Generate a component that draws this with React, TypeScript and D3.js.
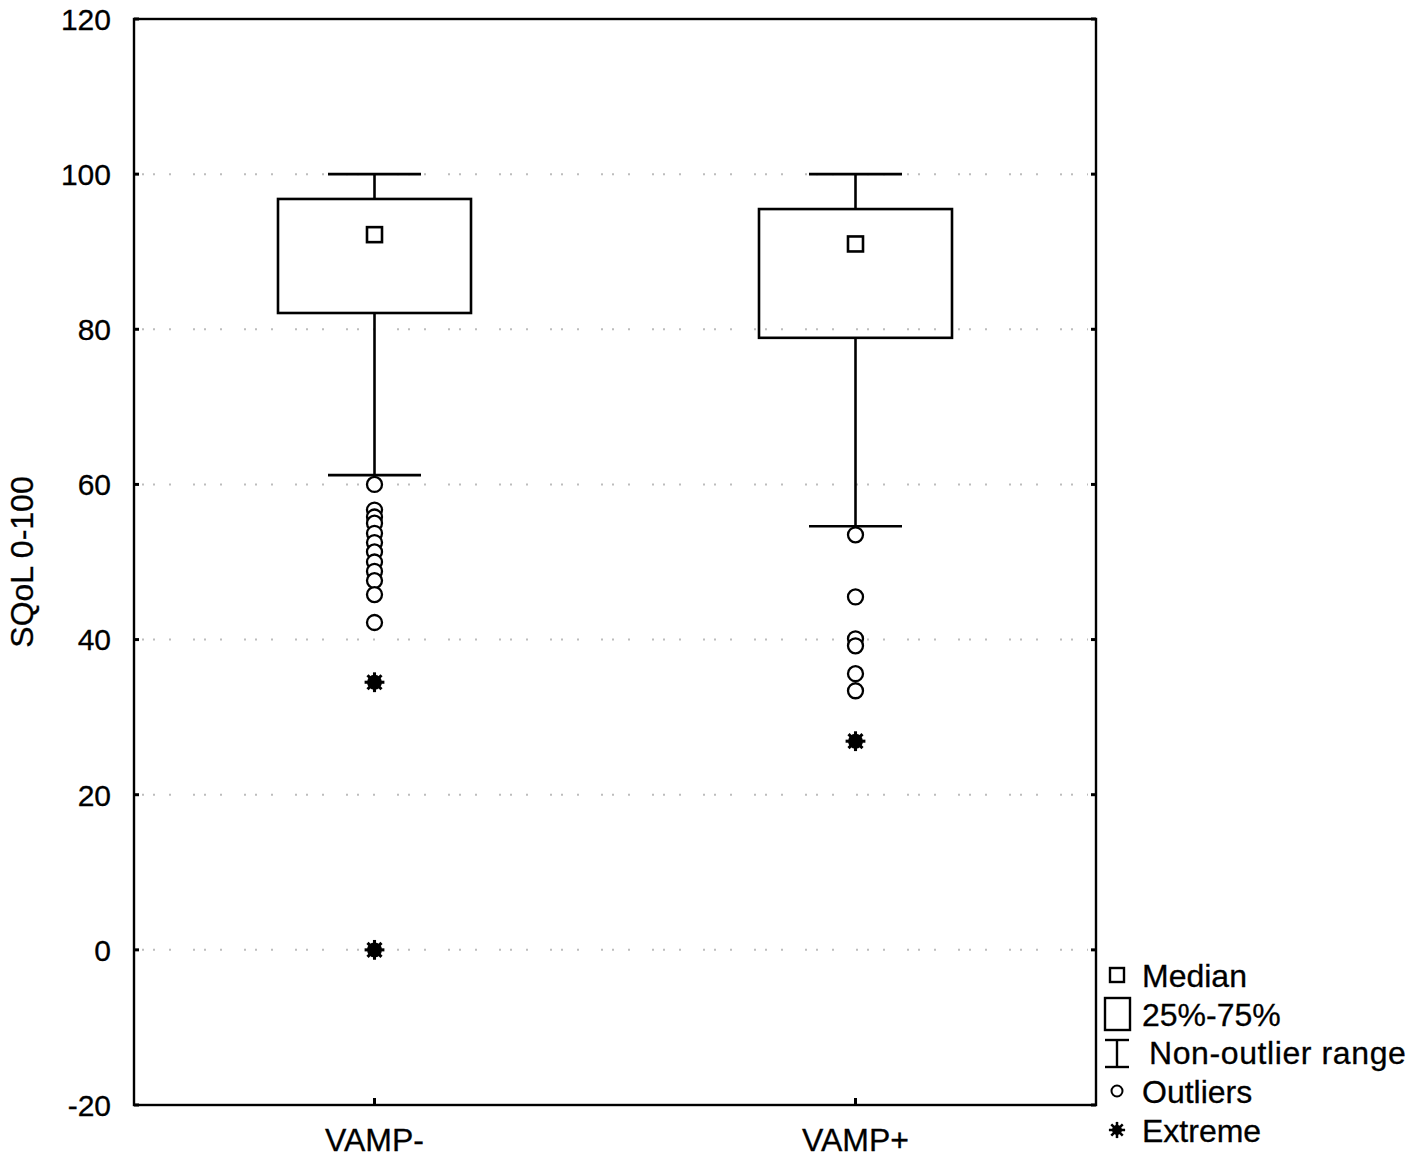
import React from "react";
import * as d3 from "d3";

const categories = ["VAMP-", "VAMP+"];
const medians = [92.2, 91.0];
const q1 = [82.1, 78.9];
const q3 = [96.8, 95.5];
const whiskerLow = [61.2, 54.6];
const whiskerHigh = [100, 100];
const outliersMinus = [60, 56.7, 55.8, 55, 53.7, 52.5, 51.3, 50, 48.8, 47.6, 45.8, 42.2];
const outliersPlus = [53.5, 45.5, 40.1, 39.2, 35.6, 33.4];
const extremesMinus = [34.5, 0];
const extremesPlus = [26.9];
const outliers = [outliersMinus, outliersPlus];
const extremes = [extremesMinus, extremesPlus];
const yTicks = [-20, 0, 20, 40, 60, 80, 100, 120];
const gridTicks = [0, 20, 40, 60, 80, 100];
const legendItems = ["Median", "25%-75%", "Non-outlier range", "Outliers", "Extreme"];

const W = 1418, H = 1162;
const L = 134, R = 1096, T = 19, B = 1105;
const FONT = "'Liberation Sans', Arial, sans-serif";

function Extreme({ x, y, s = 1 }: { x: number; y: number; s?: number }) {
  const arms = [0, 45, 90, 135];
  return (
    <g transform={`translate(${x},${y}) scale(${s})`}>
      <circle r={5.5} fill="#000" />
      {arms.map((a) => {
        const r = (a * Math.PI) / 180;
        const l = 9;
        return (
          <line key={a} x1={-l * Math.cos(r)} y1={-l * Math.sin(r)} x2={l * Math.cos(r)} y2={l * Math.sin(r)} stroke="#000" strokeWidth={2.8} />
        );
      })}
    </g>
  );
}

export default function App() {
  const y = d3.scaleLinear().domain([-20, 120]).range([B, T]);
  const x = d3.scaleBand().domain(categories).range([L, R]).paddingInner(0).paddingOuter(0);
  const cx = (c: string) => (x(c) as number) + x.bandwidth() / 2;
  const boxHalf = 96.5;
  const capHalf = 46.5;
  const legX = 1105;
  const legY = [975, 1014, 1052, 1091, 1130];

  return (
    <svg width={W} height={H} style={{ position: "absolute", left: 0, top: 0, background: "#fff" }} fontFamily={FONT}>
      <rect width={W} height={H} fill="#fff" />
      {gridTicks.map((t) => (
        <line key={t} x1={L + 8} x2={R - 8} y1={y(t)} y2={y(t)} stroke="#bdbdbd" strokeWidth={2} strokeDasharray="2 9 2 14 2 22" />
      ))}
      <rect x={L} y={T} width={R - L} height={B - T} fill="none" stroke="#000" strokeWidth={2.4} />
      {yTicks.map((t) => (
        <g key={t}>
          <line x1={L} x2={L + 5} y1={y(t)} y2={y(t)} stroke="#000" strokeWidth={3} />
          <line x1={R - 5} x2={R} y1={y(t)} y2={y(t)} stroke="#000" strokeWidth={3} />
          <text x={111} y={y(t)} dy="0.36em" textAnchor="end" fontSize={30} fill="#000" stroke="#000" strokeWidth={0.3}>{t}</text>
        </g>
      ))}
      {categories.map((c) => (
        <g key={c}>
          <line x1={cx(c)} x2={cx(c)} y1={B} y2={B - 7} stroke="#000" strokeWidth={3} />
          <text x={cx(c)} y={1151} textAnchor="middle" fontSize={32} fill="#000" stroke="#000" strokeWidth={0.3}>{c}</text>
        </g>
      ))}
      <text transform={`translate(33,562) rotate(-90)`} textAnchor="middle" fontSize={32} fill="#000" stroke="#000" strokeWidth={0.3}>SQoL 0-100</text>

      {categories.map((c, i) => {
        const X = cx(c);
        return (
          <g key={c} stroke="#000" fill="none" strokeWidth={2.6}>
            <line x1={X} x2={X} y1={y(whiskerHigh[i])} y2={y(q3[i])} />
            <line x1={X} x2={X} y1={y(q1[i])} y2={y(whiskerLow[i])} />
            <line x1={X - capHalf} x2={X + capHalf} y1={y(whiskerHigh[i])} y2={y(whiskerHigh[i])} />
            <line x1={X - capHalf} x2={X + capHalf} y1={y(whiskerLow[i])} y2={y(whiskerLow[i])} />
            <rect x={X - boxHalf} y={y(q3[i])} width={boxHalf * 2} height={y(q1[i]) - y(q3[i])} />
            <rect x={X - 7.5} y={y(medians[i]) - 7.5} width={15} height={15} />
            {outliers[i].map((v, k) => (
              <circle key={k} cx={X} cy={y(v)} r={7.5} strokeWidth={2.3} fill="#fff" />
            ))}
            {extremes[i].map((v, k) => (
              <Extreme key={k} x={X} y={y(v)} s={1.1} />
            ))}
          </g>
        );
      })}

      <g stroke="#000" fill="none" strokeWidth={2.4}>
        <rect x={1110} y={legY[0] - 7} width={14} height={14} />
        <rect x={legX} y={998} width={25} height={32} />
        <line x1={1117} x2={1117} y1={1040} y2={1067} />
        <line x1={1105} x2={1129} y1={1040} y2={1040} />
        <line x1={1105} x2={1129} y1={1067} y2={1067} />
        <circle cx={1117} cy={legY[3]} r={5.5} strokeWidth={2} />
      </g>
      <Extreme x={1117} y={legY[4]} s={0.9} />
      {legendItems.map((t, i) => (
        <text key={t} x={i === 2 ? 1149 : 1142} y={legY[i]} dy="0.36em" fontSize={32} letterSpacing={i === 2 ? 0.6 : 0} fill="#000" stroke="#000" strokeWidth={0.3}>{t}</text>
      ))}
    </svg>
  );
}
